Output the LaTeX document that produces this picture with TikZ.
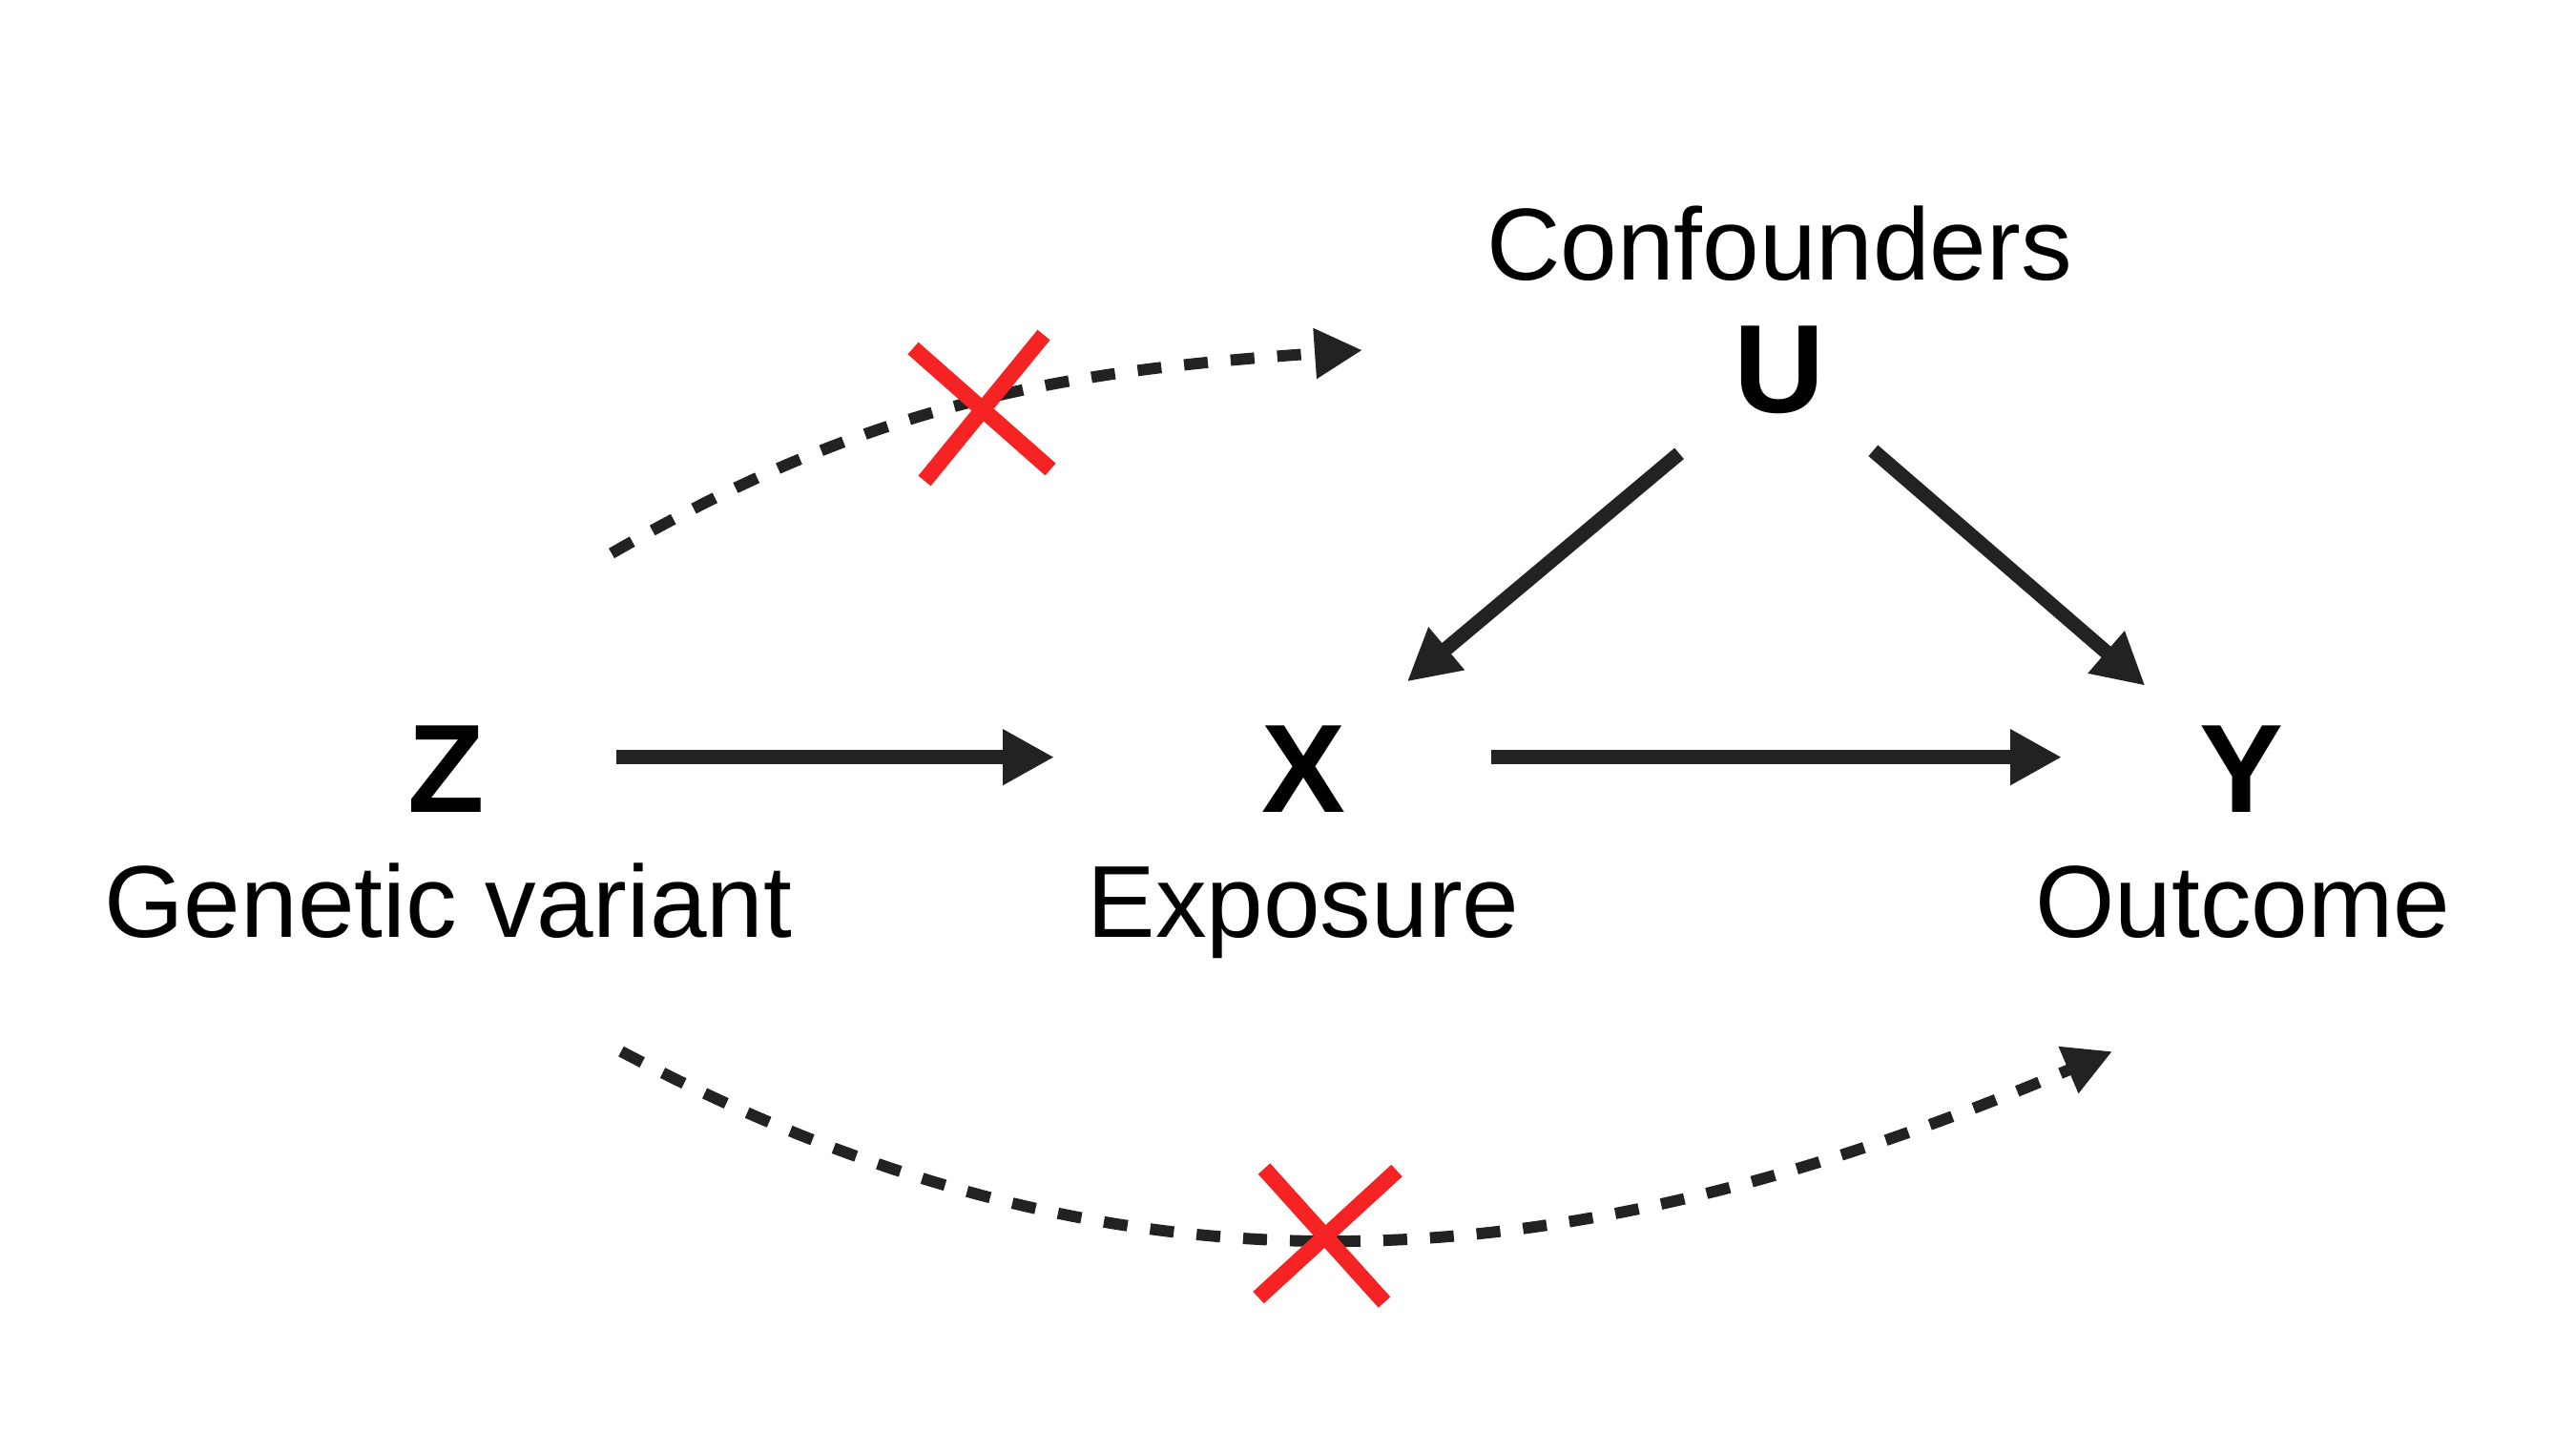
\documentclass[tikz,border=0pt]{standalone}
\usepackage{fontspec}
\setmainfont{Liberation Sans}
\usetikzlibrary{arrows.meta}

\definecolor{inkgray}{RGB}{34,34,34}
\definecolor{crossred}{RGB}{245,35,35}

\begin{document}
\begin{tikzpicture}[x=1cm,y=1cm]
\tikzstyle{every node}+=[inner sep=0pt]
\tikzstyle{varname}=[font=\fontsize{37.5}{40}\selectfont\bfseries, anchor=base]
\tikzstyle{vartext}=[font=\fontsize{30.5}{36}\selectfont, anchor=base]
\tikzstyle{causal}=[draw=inkgray, line width=4.3pt, -{Triangle[length=0.54cm,width=0.55cm]}]
\tikzstyle{blocked}=[draw=inkgray, line width=3.4pt, dash pattern=on 0.25cm off 0.24cm, -{Triangle[length=0.5cm,width=0.5cm]}]
\tikzstyle{cutmark}=[draw=crossred, line width=4.8pt]
\useasboundingbox (0,0) rectangle (27,-15);
\node[vartext] (conf) at (18.65,-2.93) {Confounders};
\node[varname] (U) at (18.65,-4.32) {U};
\node[varname] (Z) at (4.68,-8.51) {Z};
\node[varname] (X) at (13.66,-8.51) {X};
\node[varname] (Y) at (23.49,-8.51) {Y};
\node[vartext] (zname) at (4.70,-9.82) {Genetic variant};
\node[vartext] (xname) at (13.66,-9.82) {Exposure};
\node[vartext] (yname) at (23.51,-9.82) {Outcome};
\draw[causal, shorten <=1.78cm, shorten >=2.61cm] ([yshift=0.12cm]Z.center) -- ([yshift=0.12cm]X.center);
\draw[causal, shorten <=1.97cm, shorten >=1.88cm] ([yshift=0.12cm]X.center) -- ([yshift=0.12cm]Y.center);
\draw[causal, shorten <=1.37cm, shorten >=1.42cm] (U.center) -- (X.center);
\draw[causal, shorten <=1.30cm, shorten >=1.33cm] (U.center) -- (Y.center);
\coordinate (zu0) at (6.41,-5.80);
\coordinate (zu1) at (14.28,-3.67);
\coordinate (zy0) at (6.51,-11.02);
\coordinate (zy1) at (22.14,-11.02);
\draw[blocked] (zu0) to[out=30,in=184] (zu1);
\draw[blocked] (zy0) to[out=-28,in=203] (zy1);
\coordinate (cutZU) at (10.28,-4.27);
\coordinate (cutZY) at (13.88,-12.93);
\draw[cutmark] (cutZU) +(-0.71,0.62) -- +(0.73,-0.65);
\draw[cutmark] (cutZU) +(-0.59,-0.77) -- +(0.66,0.76);
\draw[cutmark] (cutZY) +(-0.63,0.68) -- +(0.63,-0.72);
\draw[cutmark] (cutZY) +(-0.69,-0.67) -- +(0.76,0.66);
\end{tikzpicture}
\end{document}
